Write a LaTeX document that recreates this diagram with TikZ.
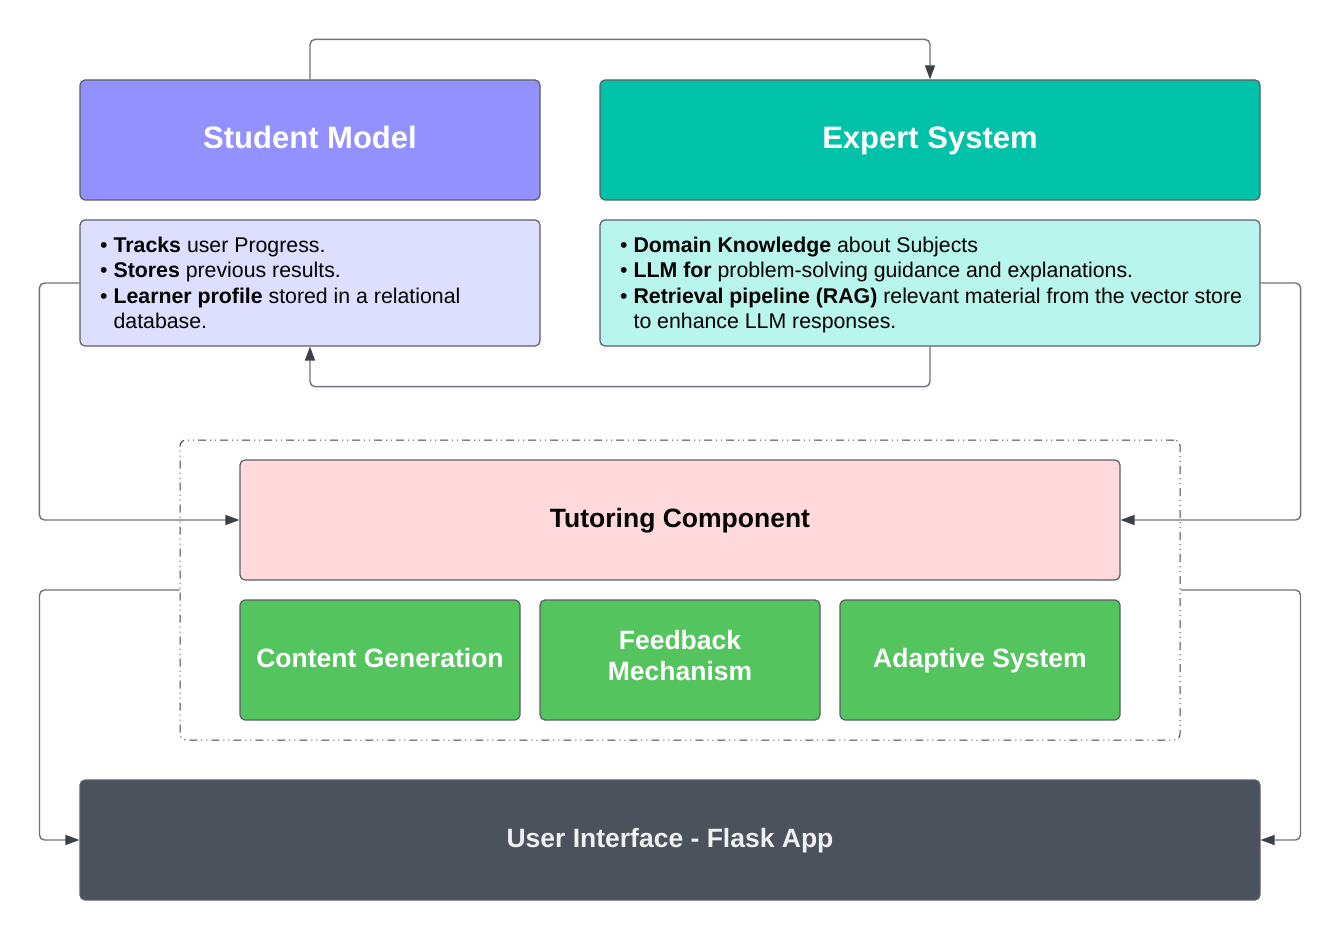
\documentclass[tikz,border=0pt]{standalone}
\usepackage{fontspec}
\setmainfont{Liberation Sans}
\usetikzlibrary{arrows.meta}
\definecolor{smfill}{HTML}{9391FF}
\definecolor{esfill}{HTML}{00C2A8}
\definecolor{smdfill}{HTML}{DEDEFF}
\definecolor{esdfill}{HTML}{B8F5ED}
\definecolor{tcfill}{HTML}{FFD9DB}
\definecolor{grfill}{HTML}{54C45E}
\definecolor{uifill}{HTML}{4B525C}
\definecolor{bordc}{HTML}{5A5E66}
\definecolor{linec}{HTML}{6E727A}
\definecolor{tipc}{HTML}{3A3F48}
\tikzset{
  box/.style={draw=bordc, line width=1.2pt, rounded corners=5pt, inner sep=0pt, anchor=center},
  headtxt/.style={text=white, font=\fontsize{31}{35}\selectfont\bfseries, text height=22.5pt, text depth=0pt},
  midtxt/.style={font=\fontsize{26.5}{31}\selectfont\bfseries, align=center},
  onemid/.style={midtxt, text height=19.3pt, text depth=0pt},
  lbl/.style={inner sep=0pt, anchor=center},
  bodytxt/.style={font=\fontsize{21.3}{25.6}\selectfont, align=left, inner sep=0pt, anchor=north west},
  conn/.style={draw=linec, line width=1.4pt, rounded corners=5pt,
    -{Triangle[length=14pt,width=10pt,color=tipc]}},
}
\newcommand{\bul}{\textbullet\ }
\newcommand{\nobul}{\phantom{\textbullet\ }}
\begin{document}
\begin{tikzpicture}[x=1pt,y=-1pt]
\useasboundingbox (0,0) rectangle (1341,941);
% container
\node[draw=tipc, line width=1pt, rounded corners=6pt, dash pattern=on 8pt off 4pt on 1pt off 4pt on 1pt off 4pt,
  minimum width=1000pt, minimum height=300pt, inner sep=0pt] (cont) at (680,590) {};
% top boxes
\node[box, fill=smfill, minimum width=460pt, minimum height=120pt] (sm) at (310,140) {};
\node[lbl, headtxt] (smt) at (310,137) {Student Model};
\node[box, fill=esfill, minimum width=660pt, minimum height=120pt] (es) at (930,140) {};
\node[lbl, headtxt] (est) at (930,137) {Expert System};
\node[box, fill=smdfill, minimum width=460pt, minimum height=126pt] (smd) at (310,283) {};
\node[box, fill=esdfill, minimum width=660pt, minimum height=126pt] (esd) at (930,283) {};
\node[bodytxt] (smdt) at (100,236.5) {\bul\textbf{Tracks} user Progress.\\
\bul\textbf{Stores} previous results.\\
\bul\textbf{Learner profile} stored in a relational\\
\nobul database.};
\node[bodytxt] (esdt) at (620,236.5) {\bul\textbf{Domain Knowledge} about Subjects\\
\bul\textbf{LLM for} problem-solving guidance and explanations.\\
\bul\textbf{Retrieval pipeline (RAG)} relevant material from the vector store\\
\nobul to enhance LLM responses.};
% tutoring
\node[box, fill=tcfill, minimum width=880pt, minimum height=120pt] (tc) at (680,520) {};
\node[lbl, onemid] (tct) at (680,517.5) {Tutoring Component};
\node[box, fill=grfill, minimum width=280pt, minimum height=120pt] (cg) at (380,660) {};
\node[lbl, onemid, text=white] (cgt) at (380,657.5) {Content Generation};
\node[box, fill=grfill, minimum width=280pt, minimum height=120pt] (fm) at (680,660) {};
\node[lbl, midtxt, text=white] (fmt) at (680,655.5) {Feedback\\Mechanism};
\node[box, fill=grfill, minimum width=280pt, minimum height=120pt] (as) at (980,660) {};
\node[lbl, onemid, text=white] (ast) at (980,657.5) {Adaptive System};
% UI
\node[box, fill=uifill, minimum width=1180pt, minimum height=120pt] (ui) at (670,840) {};
\node[lbl, onemid, text=white!94!black] (uit) at (670,837.5) {User Interface - Flask App};
% connectors
\draw[conn] (sm.north) -- ++(0,-40) -| (es.north);
\draw[conn] (esd.south) -- ++(0,40) -| (smd.south);
\draw[conn] (smd.west) -- ++(-40,0) |- (tc.west);
\draw[conn] (esd.east) -- ++(40,0) |- (tc.east);
\draw[conn] (cont.west) -- ++(-140,0) |- (ui.west);
\draw[conn] (cont.east) -- ++(120,0) |- (ui.east);
\end{tikzpicture}
\end{document}
